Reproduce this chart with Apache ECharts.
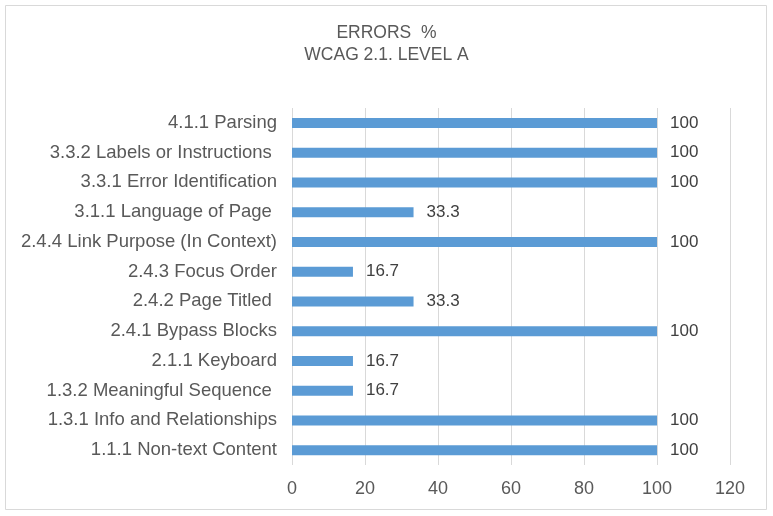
<!DOCTYPE html>
<html><head><meta charset="utf-8">
<script src="https://cdn.jsdelivr.net/npm/echarts@6/dist/echarts.min.js"></script>
<style>html,body{margin:0;padding:0;background:#fff}#c{width:773px;height:516px}</style>
</head><body><div id="c"></div>
<script>
const categories = ["1.1.1 Non-text Content","1.3.1 Info and Relationships","1.3.2 Meaningful Sequence ","2.1.1 Keyboard","2.4.1 Bypass Blocks","2.4.2 Page Titled ","2.4.3 Focus Order","2.4.4 Link Purpose (In Context)","3.1.1 Language of Page ","3.3.1 Error Identification","3.3.2 Labels or Instructions ","4.1.1 Parsing"];
const values = [100,100,16.7,16.7,100,33.3,16.7,100,33.3,100,100,100];
const titleLines = ["ERRORS  %","WCAG 2.1. LEVEL A"];
const chart = echarts.init(document.getElementById('c'));
chart.setOption({
  animation:false,
  backgroundColor:'#fff',
  graphic:[{type:'rect',shape:{x:5.5,y:5.5,width:761,height:504},style:{fill:'none',stroke:'#d9d9d9',lineWidth:1}}],
  title:{text:titleLines.join('\n'),left:'center',top:17,textStyle:{fontFamily:'Liberation Sans, Arial',fontSize:17.5,fontWeight:'normal',color:'#595959',lineHeight:22}},
  grid:{left:292,right:43,top:108,bottom:51,containLabel:false},
  xAxis:{type:'value',min:0,max:120,interval:20,
    axisLine:{show:false},axisTick:{show:false},
    splitLine:{lineStyle:{color:'#d9d9d9',width:1}},
    axisLabel:{fontFamily:'Liberation Sans, Arial',fontSize:18,color:'#595959',margin:15}},
  yAxis:{type:'category',data:categories,
    axisLine:{show:false},axisTick:{show:false},
    axisLabel:{fontFamily:'Liberation Sans, Arial',fontSize:18.5,color:'#595959',margin:15}},
  series:[{type:'bar',data:values,barWidth:10,itemStyle:{color:'#5b9bd5'},
    label:{show:true,position:'right',distance:13,fontFamily:'Liberation Sans, Arial',fontSize:17,color:'#404040'}}]
});
</script></body></html>
